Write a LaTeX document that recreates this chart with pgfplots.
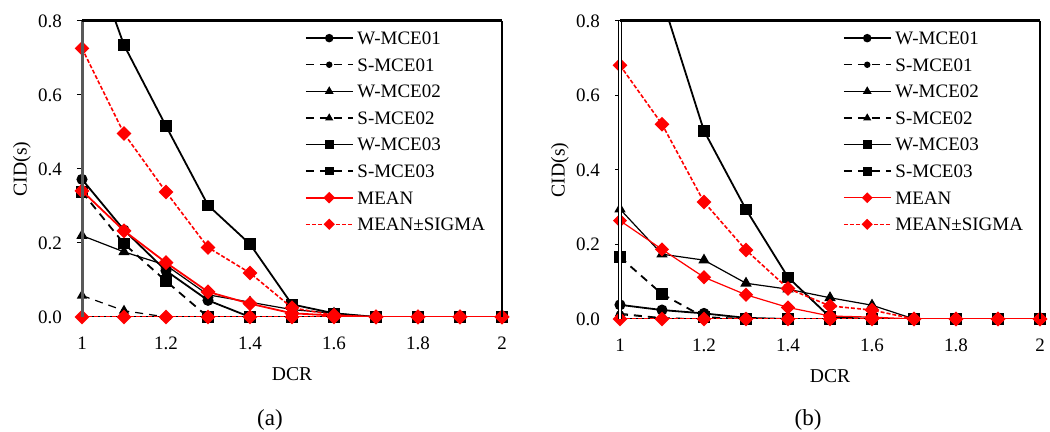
\documentclass[border=0pt]{standalone}
\usepackage{pgfplots}
\pgfplotsset{compat=1.18}
\usepackage{pgfplotstable}
\usepackage{fontspec}
\setmainfont{Liberation Serif}

% panel (a)
\pgfplotstableread{
x   w1    s1  w2    s2    w3    s3    mean  msp   msm
1.0 0.372 0   0.220 0.058 nan   0.338 0.341 0.726 0
1.1 0.235 0   0.176 0.017 0.735 0.198 0.233 0.496 0
1.2 0.125 0   0.140 0     0.516 0.097 0.147 0.338 0
1.3 0.045 0   0.060 0     0.302 0     0.068 0.188 0
1.4 0     0   0.040 0     0.197 0     0.036 0.119 0
1.5 0     0   0.020 0     0.034 0     0.010 0.025 0
1.6 0     0   0.010 0     0.010 0     0.004 0.005 0
1.7 0     0   0     0     0     0     0     0     0
1.8 0     0   0     0     0     0     0     0     0
1.9 0     0   0     0     0     0     0     0     0
2.0 0     0   0     0     0     0     0     0     0
}\dataA

% panel (b)
\pgfplotstableread{
x   w1    s1    w2    s2    w3    s3    mean  msp   msm
1.0 0.038 0.012 0.295 0.015 nan   0.166 0.264 0.681 0
1.1 0.024 0.002 0.174 0.003 nan   0.067 0.187 0.523 0
1.2 0.015 0     0.158 0     0.505 0.005 0.112 0.314 0
1.3 0.003 0     0.096 0     0.294 0     0.065 0.185 0
1.4 0     0     0.080 0     0.112 0     0.031 0.082 0
1.5 0     0     0.057 0     0.005 0     0.008 0.035 0
1.6 0     0     0.037 0     0     0     0.005 0.024 0
1.7 0     0     0     0     0     0     0     0     0
1.8 0     0     0     0     0     0     0     0     0
1.9 0     0     0     0     0     0     0     0     0
2.0 0     0     0     0     0     0     0     0     0
}\dataB

\pgfplotsset{
  panel/.style={
    scale only axis, width=210pt,
    xmin=1, xmax=2, ymin=0, ymax=0.8,
    xtick={1,1.2,1.4,1.6,1.8,2},
    ytick={0,0.2,0.4,0.6,0.8},
    yticklabel style={/pgf/number format/fixed, /pgf/number format/fixed zerofill,
      /pgf/number format/precision=1, /tikz/xshift=-4pt},
    xticklabel style={/tikz/yshift=-4pt},
    /pgf/number format/assume math mode=true,
    tick align=outside, xtick pos=bottom, ytick pos=left,
    major tick length=2.5pt,
    tick style={black, line width=0.5pt},
    axis line style={draw=none},
    clip mode=individual,
    unbounded coords=jump,
    tick label style={font=\fontsize{9.5}{11}\selectfont},
    label style={font=\fontsize{9.8}{11}\selectfont},
    xlabel={DCR}, ylabel={CID(s)},
    xlabel style={at={(axis description cs:0.5,-0.193)}, anchor=center},
    ylabel style={at={(axis description cs:-0.143,0.5)}, anchor=center},
    legend style={at={(axis description cs:0.53,0.985)}, anchor=north west,
      draw=none, fill=none, inner sep=0pt, row sep=1pt,
      font=\fontsize{9.5}{11}\selectfont,
      nodes={text height=7.3pt, text depth=1pt, inner sep=2pt}},
    legend cell align=left,
    legend image code/.code={
      \draw[mark repeat=2,mark phase=2,/tikz/every mark/.append style={scale=0.72}]
        plot coordinates {(0cm,0cm) (0.41cm,0cm) (0.82cm,0cm)};},
  },
  sW1/.style={black, line width=0.9pt, mark=*, mark size=2.3pt, mark options={solid}},
  sS1/.style={black, line width=0.6pt, dash pattern=on 4pt off 3pt, mark=*, mark size=1.8pt, mark options={solid}},
  sW2/.style={black, line width=0.6pt, mark=triangle*, mark size=2.7pt, mark options={solid}},
  sS2/.style={black, line width=0.6pt, dash pattern=on 4pt off 3pt, mark=triangle*, mark size=2.4pt, mark options={solid}},
  sW3/.style={black, line width=0.9pt, mark=square*, mark size=2.4pt, mark options={solid}},
  sS3/.style={black, line width=0.9pt, dash pattern=on 4pt off 3pt, mark=square*, mark size=2.4pt, mark options={solid}},
  sM/.style={red, line width=0.9pt, mark=square*, mark size=2.2pt, mark options={solid, rotate=45}},
  sMS/.style={red, line width=0.8pt, dash pattern=on 2pt off 1pt, mark=square*, mark size=2.2pt, mark options={solid, rotate=45}},
}

\begin{document}
\begin{tikzpicture}
\useasboundingbox (0,0) rectangle (525pt,216pt);

% ---------------- panel (a)
\begin{axis}[panel, height=148pt, at={(41pt,57.5pt)}, anchor=origin]
  \draw[black, line width=0.5pt] (rel axis cs:0,0) -- (rel axis cs:1,0);
  \addplot[black, line width=0.9pt, forget plot] coordinates {(1,1.05) (1.1,0.735)};
  \addplot[sW1] table[x=x,y=w1] {\dataA};
  \addlegendentry{W-MCE01}
  \addplot[sS1] table[x=x,y=s1] {\dataA};
  \addlegendentry{S-MCE01}
  \addplot[sW2] table[x=x,y=w2] {\dataA};
  \addlegendentry{W-MCE02}
  \addplot[sS2] table[x=x,y=s2] {\dataA};
  \addlegendentry{S-MCE02}
  \addplot[sW3] table[x=x,y=w3] {\dataA};
  \addlegendentry{W-MCE03}
  \addplot[sS3] table[x=x,y=s3] {\dataA};
  \addlegendentry{S-MCE03}
  \addplot[sM] table[x=x,y=mean] {\dataA};
  \addlegendentry{MEAN}
  \addplot[sMS] table[x=x,y=msp] {\dataA};
  \addlegendentry{MEAN±SIGMA}
  \addplot[sMS, forget plot] table[x=x,y=msm] {\dataA};
  \draw[black!65, line width=1.5pt] (rel axis cs:0,0) -- (rel axis cs:0,1);
  \draw[black, line width=1.5pt] (rel axis cs:0,1) -- (rel axis cs:1,1);
  \draw[black, line width=1pt] (rel axis cs:1,1) -- (rel axis cs:1,0);
\end{axis}
\node[font=\fontsize{11.5}{13}\selectfont] at (135pt,6pt) {(a)};

% ---------------- panel (b)
\begin{axis}[panel, height=149pt, at={(310pt,56.5pt)}, anchor=origin]
  \draw[black, line width=0.5pt] (rel axis cs:0,0) -- (rel axis cs:1,0);
  \addplot[black, line width=0.9pt, forget plot] coordinates {(1,1.25) (1.1,0.86) (1.2,0.505)};
  \addplot[sW1] table[x=x,y=w1] {\dataB};
  \addlegendentry{W-MCE01}
  \addplot[sS1] table[x=x,y=s1] {\dataB};
  \addlegendentry{S-MCE01}
  \addplot[sW2] table[x=x,y=w2] {\dataB};
  \addlegendentry{W-MCE02}
  \addplot[sS2] table[x=x,y=s2] {\dataB};
  \addlegendentry{S-MCE02}
  \addplot[sW3] table[x=x,y=w3] {\dataB};
  \addlegendentry{W-MCE03}
  \addplot[sS3] table[x=x,y=s3] {\dataB};
  \addlegendentry{S-MCE03}
  \addplot[sM, line width=0.6pt] table[x=x,y=mean] {\dataB};
  \addlegendentry{MEAN}
  \addplot[sMS] table[x=x,y=msp] {\dataB};
  \addlegendentry{MEAN±SIGMA}
  \addplot[sMS, forget plot] table[x=x,y=msm] {\dataB};
  \draw[black, double=white, double distance=0.7pt, line width=0.5pt] (rel axis cs:0,0) -- (rel axis cs:0,1);
  \draw[black, line width=1.5pt] (rel axis cs:0,1) -- (rel axis cs:1,1);
  \draw[black, line width=1pt] (rel axis cs:1,1) -- (rel axis cs:1,0);
\end{axis}
\node[font=\fontsize{11.5}{13}\selectfont] at (404pt,6pt) {(b)};
\end{tikzpicture}
\end{document}
